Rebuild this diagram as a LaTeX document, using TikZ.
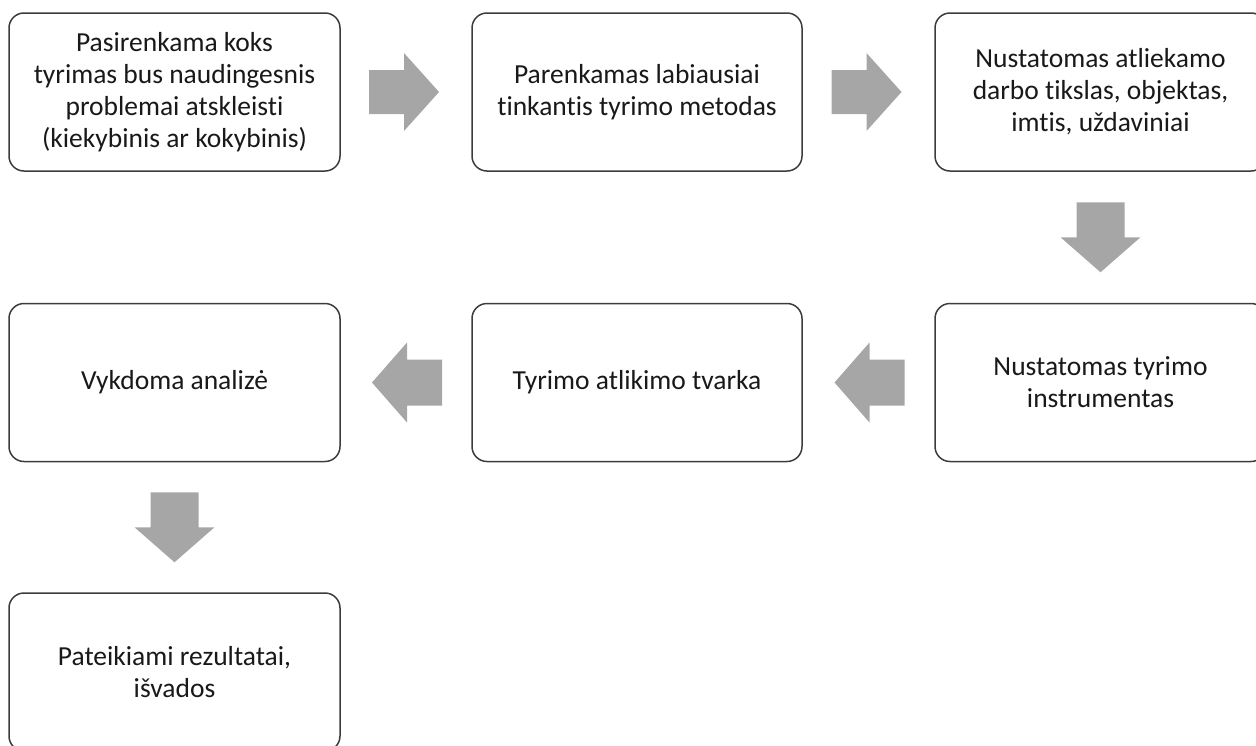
\documentclass[tikz,border=0pt]{standalone}
\usepackage{fontspec}
\setmainfont[Ligatures=NoCommon]{Carlito}
\usetikzlibrary{calc}
\definecolor{arrgray}{RGB}{166,166,166}
\definecolor{boxline}{RGB}{60,60,60}
\tikzset{
  x={(1pt,0)}, y={(0,-1pt)},
  stepbox/.style={draw=boxline, line width=1.5pt, rounded corners=15pt, fill=white,
    minimum height=158pt, inner sep=4pt, align=center,
    font=\fontsize{27.5pt}{32pt}\selectfont, text=black!90},
  rarr/.pic={\fill[arrgray] (-35,-22) -- (0,-22) -- (0,-39) -- (35,0) -- (0,39) -- (0,22) -- (-35,22) -- cycle;},
  larr/.pic={\fill[arrgray] (35,-23) -- (0,-23) -- (0,-40) -- (-35,0) -- (0,40) -- (0,23) -- (35,23) -- cycle;},
  darr/.pic={\fill[arrgray] (-24,-35) -- (24,-35) -- (24,0) -- (40,0) -- (0,35) -- (-40,0) -- (-24,0) -- cycle;}
}
\begin{document}
\begin{tikzpicture}
\useasboundingbox (0,0) rectangle (1256,745);
\clip (0,0) rectangle (1256,745);
\node[stepbox, minimum width=331pt] (A) at (174.5,92) {Pasirenkama koks\\tyrimas bus naudingesnis\\problemai atskleisti\\(kiekybinis ar kokybinis)};
\node[stepbox, minimum width=330pt] (B) at (637,92) {Parenkamas labiausiai\\tinkantis tyrimo metodas};
\node[stepbox, minimum width=331pt] (C) at (1100.5,92) {Nustatomas atliekamo\\darbo tikslas, objektas,\\imtis, uždaviniai};
\node[stepbox, minimum width=331pt] (F) at (1100.5,382.5) {Nustatomas tyrimo\\instrumentas};
\node[stepbox, minimum width=330pt] (E) at (637,382.5) {Tyrimo atlikimo tvarka};
\node[stepbox, minimum width=331pt] (D) at (174.5,382.5) {Vykdoma analizė};
\node[stepbox, minimum width=331pt] (G) at (174.5,672) {Pateikiami rezultatai,\\išvados};
\pic at ($(A.east)!0.5!(B.west)+(-2,0)$) {rarr};
\pic at ($(B.east)!0.5!(C.west)+(-2,0)$) {rarr};
\pic at ($(C.south)!0.5!(F.north)$) {darr};
\pic at ($(F.west)!0.5!(E.east)+(1,0)$) {larr};
\pic at ($(E.west)!0.5!(D.east)+(1,0)$) {larr};
\pic at ($(D.south)!0.5!(G.north)$) {darr};
\end{tikzpicture}
\end{document}
